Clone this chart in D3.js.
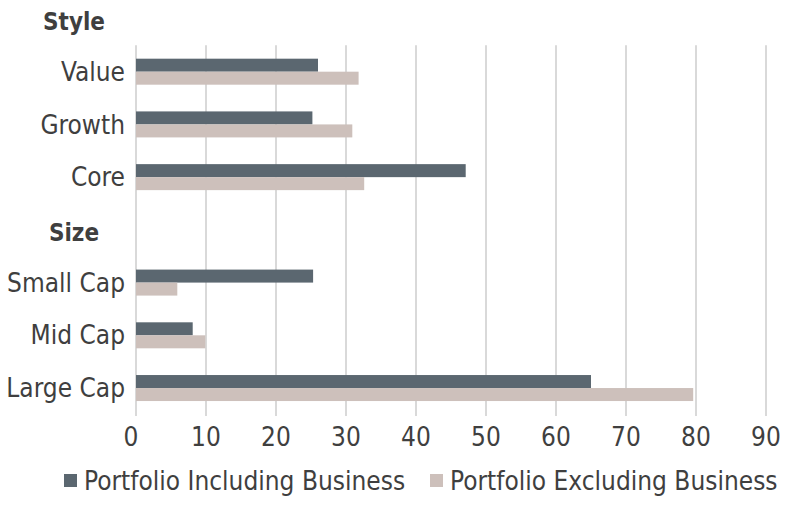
<!DOCTYPE html>
<html>
<head>
<meta charset="utf-8">
<script src="https://cdn.jsdelivr.net/npm/d3@7"></script>
<style>
  body { margin: 0; background: #fff; }
  text { font-family: "Liberation Sans Narrow", "DejaVu Sans Condensed", "Roboto", sans-serif; fill: #3f3f3f; }
</style>
</head>
<body>
<svg width="800" height="520"></svg>
<script>
// rows, headers have no bars
var rows = ["Style", "Value", "Growth", "Core", "Size", "Small Cap", "Mid Cap", "Large Cap"];
var headers = ["Style", "Size"];
var seriesNames = ["Portfolio Including Business", "Portfolio Excluding Business"];
var including = [null, 26, 25.2, 47.1, null, 25.3, 8.1, 65];
var excluding = [null, 31.8, 30.9, 32.6, null, 5.9, 9.9, 79.6];
var xTicks = [0, 10, 20, 30, 40, 50, 60, 70, 80, 90];
var colors = ["#5b6770", "#cdc0bb"];

var svg = d3.select("svg");

var x = d3.scaleLinear().domain([0, 90]).range([136, 766]);
var y = d3.scaleBand().domain(rows).range([-7.4, 414.4]);
var sub = d3.scaleBand().domain([0, 1]).range([0, 26]);

// grid lines
var gridTop = y("Value");
svg.append("g").selectAll("line")
    .data(xTicks)
    .enter().append("line")
    .attr("x1", function(d) { return x(d); })
    .attr("x2", function(d) { return x(d); })
    .attr("y1", gridTop)
    .attr("y2", 416)
    .attr("stroke", "#d9d9d9")
    .attr("stroke-width", 2);

// bars
var data = [];
rows.forEach(function(r, i) {
    if (including[i] != null) data.push({ row: r, s: 0, v: including[i] });
    if (excluding[i] != null) data.push({ row: r, s: 1, v: excluding[i] });
});

svg.append("g").selectAll("rect")
    .data(data)
    .enter().append("rect")
    .attr("x", x(0))
    .attr("y", function(d) { return y(d.row) + y.bandwidth() / 2 - 13 + sub(d.s); })
    .attr("width", function(d) { return x(d.v) - x(0); })
    .attr("height", sub.bandwidth())
    .attr("fill", function(d) { return colors[d.s]; });

// category labels
svg.append("g").selectAll("text")
    .data(rows)
    .enter().append("text")
    .attr("x", function(d) { return headers.includes(d) ? 74 : 125; })
    .attr("y", function(d) { return y(d) + y.bandwidth() / 2 + (headers.includes(d) ? 3 : 0); })
    .attr("dy", "0.35em")
    .attr("text-anchor", function(d) { return headers.includes(d) ? "middle" : "end"; })
    .style("font-size", function(d) { return headers.includes(d) ? "24px" : "26px"; })
    .style("font-weight", function(d) { return headers.includes(d) ? "bold" : "normal"; })
    .text(function(d) { return d; });

// x tick labels
svg.append("g").selectAll("text")
    .data(xTicks)
    .enter().append("text")
    .attr("x", function(d) { return x(d) - (d === 0 ? 5 : 0); })
    .attr("y", 446)
    .attr("text-anchor", "middle")
    .style("font-size", "26px")
    .text(function(d) { return d; });

// legend
var legendX = [64, 430];
var legend = svg.append("g").selectAll("g")
    .data(seriesNames)
    .enter().append("g")
    .attr("transform", function(d, i) { return "translate(" + legendX[i] + ",474)"; });

legend.append("rect")
    .attr("width", 13)
    .attr("height", 13)
    .attr("fill", function(d, i) { return colors[i]; });

legend.append("text")
    .attr("x", 20)
    .attr("y", 16)
    .style("font-size", "26px")
    .text(function(d) { return d; });
</script>
</body>
</html>
